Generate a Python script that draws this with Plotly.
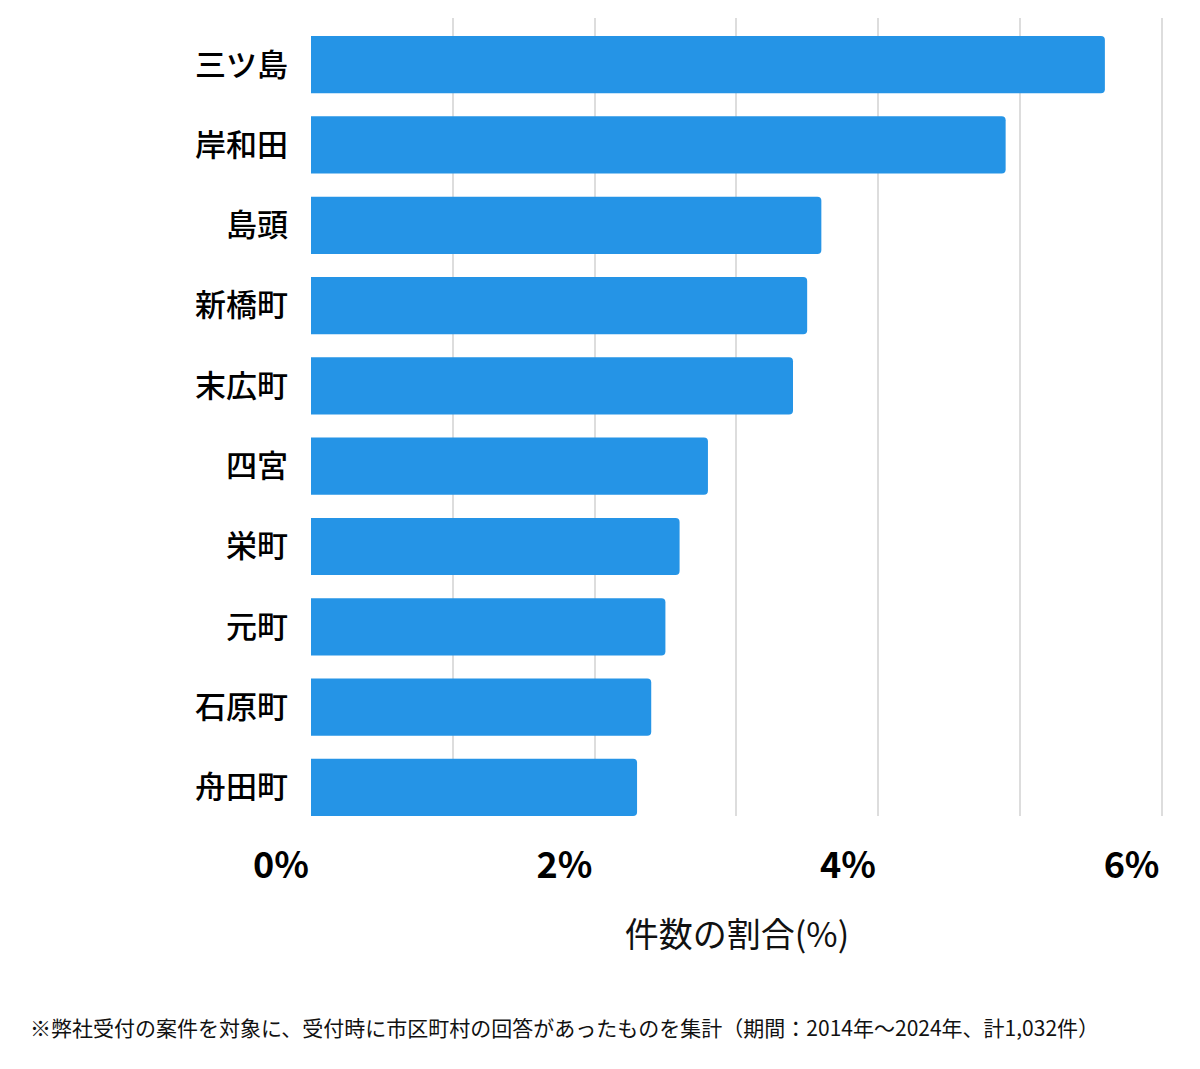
import plotly.graph_objects as go

categories = ["三ツ島", "岸和田", "島頭", "新橋町", "末広町", "四宮", "栄町", "元町", "石原町", "舟田町"]
shares = [5.6, 4.9, 3.6, 3.5, 3.4, 2.8, 2.6, 2.5, 2.4, 2.3]
x_tickvals = [0, 1, 2, 3, 4, 5, 6]
x_ticktext = ["0%", "", "2%", "", "4%", "", "6%"]
x_title = "件数の割合(%)"
footnote = "※弊社受付の案件を対象に、受付時に市区町村の回答があったものを集計（期間：2014年～2024年、計1,032件）"

FONT = "Noto Sans CJK JP"

fig = go.Figure(go.Bar(
    x=shares,
    y=list(range(len(categories))),
    orientation="h",
    marker=dict(color="#2594E6", line=dict(width=0)),
    width=0.7125,
    hoverinfo="skip",
))

fig.update_layout(
    width=1200,
    height=1069,
    margin=dict(l=311, r=36.6, t=18, b=253, autoexpand=False),
    paper_bgcolor="white",
    plot_bgcolor="white",
    barcornerradius=4,
    showlegend=False,
    font=dict(family=FONT, color="#111111"),
)

fig.update_xaxes(
    range=[0, 6.01],
    tickvals=x_tickvals,
    ticktext=x_ticktext,
    showgrid=True,
    gridcolor="#dddddd",
    gridwidth=1.5,
    zeroline=False,
    showline=False,
    ticks="",
    tickfont=dict(family=FONT, size=36, color="#000000", weight="bold"),
    ticklabelshift=-30,
    ticklabelstandoff=25,
    title=dict(text=x_title, font=dict(family=FONT, size=34, color="#111111"), standoff=36),
    fixedrange=True,
)

fig.update_yaxes(
    range=[9.35625, -0.58125],
    tickvals=list(range(len(categories))),
    ticktext=categories,
    showgrid=False,
    zeroline=False,
    showline=False,
    ticks="",
    tickfont=dict(family=FONT, size=31, color="#000000", weight=500),
    ticklabelstandoff=22,
    fixedrange=True,
)

fig.add_annotation(
    text=footnote,
    xref="paper", yref="paper",
    x=(28 - 311) / 851, y=(816 - 1027) / 798,
    xanchor="left", yanchor="middle",
    showarrow=False,
    font=dict(family=FONT, size=21, color="#111111"),
)

fig.write_html("out.html")
